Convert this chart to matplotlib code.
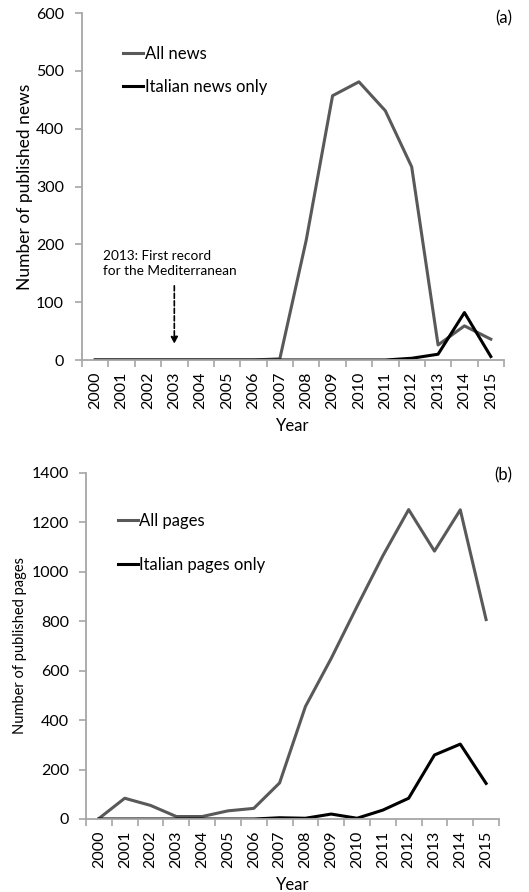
import matplotlib
matplotlib.use("Agg")
import matplotlib.pyplot as plt
import numpy as np

plt.rcParams['font.family'] = ['Lato', 'DejaVu Sans']

years = [str(y) for y in range(2000, 2016)]
all_news = [0, 0, 0, 0, 0, 0, 0, 2, 207, 457, 481, 431, 334, 26, 59, 36]
italian_news = [0, 0, 0, 0, 0, 0, 0, 0, 0, 0, 0, 0, 3, 10, 82, 6]
all_pages = [2, 84, 55, 10, 10, 33, 43, 146, 455, 650, 860, 1065, 1252, 1084, 1251, 807]
italian_pages = [0, 0, 0, 0, 0, 0, 0, 5, 3, 20, 3, 36, 84, 259, 303, 144]

GRAY = '#595959'
SPINE = '#a6a6a6'
W, H = 529, 892

fig = plt.figure(figsize=(W / 100, H / 100), dpi=100)

def make_axes(l, r, t, b):
    return fig.add_axes([l / W, 1 - b / H, (r - l) / W, (b - t) / H])

def style(ax, ymax, ystep, ylabel, ylabel_size, ypad):
    x = np.arange(len(years))
    ax.set_xlim(-0.5, len(years) - 0.5)
    ax.set_ylim(0, ymax)
    ax.set_yticks(np.arange(0, ymax + 1, ystep))
    ax.set_xticks(x)
    ax.set_xticklabels(years, rotation=90, fontsize=11.5)
    ax.set_xticks(np.arange(-0.5, len(years)), minor=True)
    ax.tick_params(axis='x', which='major', length=0, pad=8.5)
    ax.tick_params(axis='x', which='minor', length=5, width=1.2, color=SPINE, direction='out')
    ax.tick_params(axis='y', length=5, width=1.2, color=SPINE, labelsize=11.5, pad=ypad)
    for s in ['top', 'right']:
        ax.spines[s].set_visible(False)
    for s in ['left', 'bottom']:
        ax.spines[s].set_color(SPINE)
        ax.spines[s].set_linewidth(1.3)
    ax.set_ylabel(ylabel, fontsize=ylabel_size)
    ax.set_xlabel('Year', fontsize=12, labelpad=6)
    ax.patch.set_visible(False)

x = np.arange(len(years))

# Panel (a)
ax1 = make_axes(82, 504, 13, 360)
ax1.plot(x, all_news, color=GRAY, lw=2.2, label='All news')
ax1.plot(x, italian_news, color='black', lw=2.2, label='Italian news only')
style(ax1, 600, 100, 'Number of published news', 12.5, 8)
ax1.yaxis.set_label_coords(-0.116, 0.5)
ax1.legend(loc='upper left', bbox_to_anchor=(0.097, 0.905), frameon=False, fontsize=12,
           handlelength=1.2, handletextpad=0.1, labelspacing=1.0, borderaxespad=0,
           borderpad=0)
ax1.annotate('', xy=(3.0, 23), xytext=(3.0, 133),
             arrowprops=dict(arrowstyle='-|>', linestyle=(0, (3, 1.5)), color='black', lw=1.2,
                             mutation_scale=10))
ax1.text(0.3, 167, '2013: First record\nfor the Mediterranean', fontsize=9.8, ha='left',
         va='center', linespacing=1.3)
fig.text(512 / W, 1 - 18 / H, '(a)', fontsize=12, ha='right', va='center')

# Panel (b)
ax2 = make_axes(86, 499, 473, 819)
ax2.plot(x, all_pages, color=GRAY, lw=2.2, label='All pages')
ax2.plot(x, italian_pages, color='black', lw=2.2, label='Italian pages only')
style(ax2, 1400, 200, 'Number of published pages', 10.5, 7)
ax2.yaxis.set_label_coords(-0.143, 0.5)
ax2.legend(loc='upper left', bbox_to_anchor=(0.077, 0.885), frameon=False, fontsize=12,
           handlelength=1.2, handletextpad=0.1, labelspacing=1.7, borderaxespad=0,
           borderpad=0)
fig.text(512 / W, 1 - 475 / H, '(b)', fontsize=12, ha='right', va='center')

fig.savefig('out.png', dpi=100)
